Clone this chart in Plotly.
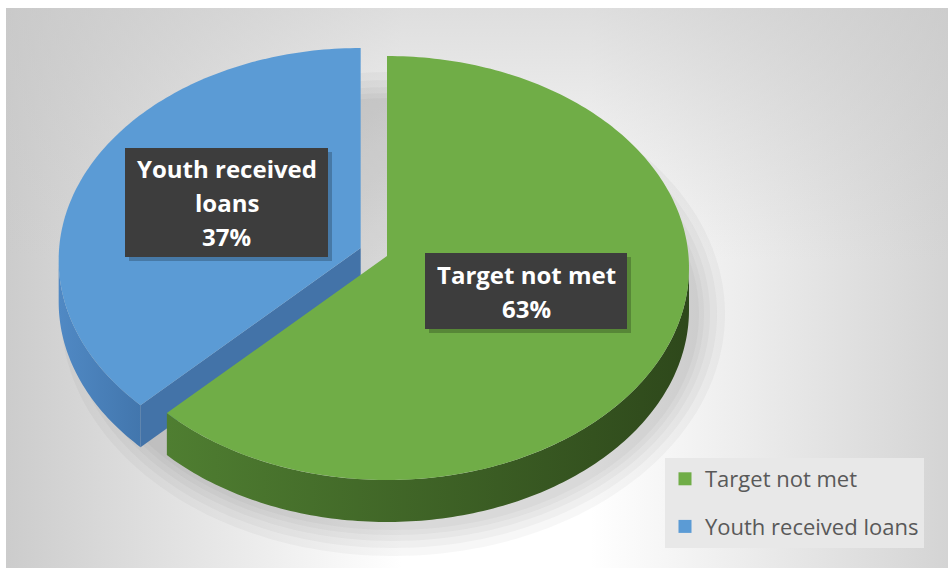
import textwrap
import numpy as np
import plotly.graph_objects as go

# ---- data -------------------------------------------------------------
categories = ["Target not met", "Youth received loans"]
values = [63, 37]

# ---- styling ----------------------------------------------------------
top_colors = ["#70AD47", "#5B9BD5"]
outer_wall_colors = [("#4f7e31", "#2e481b"), ("#5089c4", "#4276ad")]
radial_wall_colors = ["#3b5e24", "#4373a8"]
explode = [0.0, 0.095]

W, H = 948, 568
CX, CY = 387, 268          # ellipse centre of the pie top (pixels)
RX, RY = 302, 212          # ellipse radii
DEPTH = 42                 # thickness of the 3-D disc
APEX_LIFT = 12             # perspective: pie centre sits above ellipse middle
FONT = "Open Sans"

total = sum(values)
fracs = [v / total for v in values]
starts = np.concatenate([[0.0], np.cumsum(fracs)[:-1]]) * 360.0
ends = starts + np.array(fracs) * 360.0


def ell(theta, dx=0.0, dy=0.0):
    """Point on the pie rim; theta in degrees, clockwise from 12 o'clock."""
    t = np.radians(theta)
    return CX + dx + RX * np.sin(t), CY + dy - RY * np.cos(t)


fig = go.Figure()

# ---- background panel with soft gradients ------------------------------
bx = [6, W, W, 6, 6]
by = [8, 8, H, H, 8]
fig.add_trace(go.Scatter(
    x=bx, y=by, mode="none", fill="toself", hoverinfo="skip", showlegend=False,
    fillgradient=dict(type="horizontal", colorscale=[
        [0.0, "#cccccc"], [0.42, "#ffffff"], [0.62, "#ffffff"], [1.0, "#d4d4d4"]]),
))
fig.add_trace(go.Scatter(
    x=bx, y=by, mode="none", fill="toself", hoverinfo="skip", showlegend=False,
    fillgradient=dict(type="vertical", colorscale=[
        [0.0, "rgba(200,200,200,0)"], [0.55, "rgba(200,200,200,0)"],
        [1.0, "rgba(200,200,200,0.6)"]]),
))

# ---- soft drop shadow under the disc ----------------------------------
th = np.linspace(0, 360, 181)
for k in (30, 22, 15, 9, 4):
    sx = CX + 6 + (RX + k) * np.sin(np.radians(th))
    sy = CY + DEPTH + 4 - (RY + k) * np.cos(np.radians(th))
    fig.add_trace(go.Scatter(x=sx, y=sy, mode="none", fill="toself",
                             fillcolor="rgba(60,60,60,0.045)",
                             hoverinfo="skip", showlegend=False))

# ---- build slice geometry ---------------------------------------------
walls = []   # (front-most y, trace)
tops = []
for i, (a0, a1) in enumerate(zip(starts, ends)):
    mid = np.radians((a0 + a1) / 2)
    dx = explode[i] * RX * np.sin(mid)
    dy = -explode[i] * RY * np.cos(mid)
    apex = (CX + dx, CY + dy - APEX_LIFT)

    # top face
    arc = np.linspace(a0, a1, max(int(a1 - a0), 2) + 1)
    ax_, ay_ = ell(arc, dx, dy)
    tx = np.concatenate([[apex[0]], ax_, [apex[0]]])
    ty = np.concatenate([[apex[1]], ay_, [apex[1]]])
    tops.append(go.Scatter(x=tx, y=ty, mode="none", fill="toself",
                           fillcolor=top_colors[i], hoverinfo="skip",
                           showlegend=False))

    # outer (rim) wall: the part facing the viewer lies between 90° and 270°
    lo, hi = max(a0, 90.0), min(a1, 270.0)
    if hi > lo:
        warc = np.linspace(lo, hi, max(int(hi - lo), 2) + 1)
        wx, wy = ell(warc, dx, dy)
        px = np.concatenate([wx, wx[::-1], [wx[0]]])
        py = np.concatenate([wy, wy[::-1] + DEPTH, [wy[0]]])
        c1, c2 = outer_wall_colors[i]
        walls.append((py.max(), go.Scatter(
            x=px, y=py, mode="none", fill="toself", hoverinfo="skip",
            showlegend=False,
            fillgradient=dict(type="horizontal",
                              colorscale=[[0, c1], [1, c2]]))))

    # radial cut faces, visible when they face downward on screen
    for a, sgn in ((a0, -1.0), (a1, 1.0)):
        r = np.radians(a)
        normal_down = sgn * np.sin(r)
        if normal_down > 0.05:
            ex, ey = ell(a, dx, dy)
            px = [apex[0], ex, ex, apex[0], apex[0]]
            py = [apex[1], ey, ey + DEPTH, apex[1] + DEPTH, apex[1]]
            walls.append((max(py), go.Scatter(
                x=px, y=py, mode="none", fill="toself",
                fillcolor=radial_wall_colors[i], hoverinfo="skip",
                showlegend=False)))

for _, tr in sorted(walls, key=lambda w: w[0]):
    fig.add_trace(tr)
for tr in tops:
    fig.add_trace(tr)

# ---- data labels (dark boxes) -----------------------------------------
label_boxes = [
    dict(x0=425, x1=627, y0=253, y1=329),   # Target not met
    dict(x0=125, x1=328, y0=148, y1=257),   # Youth received loans
]
LINE_STEP = 34
for i, (name, v) in enumerate(zip(categories, values)):
    b = label_boxes[i]
    pct = round(v / total * 100)
    lines = textwrap.wrap(name, 14) + [f"{pct}%"]
    fig.add_shape(type="rect", x0=b["x0"] + 4, x1=b["x1"] + 4,
                  y0=b["y0"] + 4, y1=b["y1"] + 4, line_width=0,
                  fillcolor="rgba(0,0,0,0.22)", layer="above")
    fig.add_shape(type="rect", x0=b["x0"], x1=b["x1"], y0=b["y0"],
                  y1=b["y1"], line_width=0, fillcolor="#3d3d3d",
                  layer="above")
    cy = (b["y0"] + b["y1"]) / 2
    first = cy - LINE_STEP * (len(lines) - 1) / 2
    for j, ln in enumerate(lines):
        fig.add_annotation(x=(b["x0"] + b["x1"]) / 2, y=first + j * LINE_STEP,
                           text=f"<b>{ln}</b>", showarrow=False,
                           xanchor="center", yanchor="middle",
                           font=dict(family=FONT, size=24, color="white"))

# ---- legend entries ---------------------------------------------------
for i, name in enumerate(categories):
    fig.add_trace(go.Scatter(
        x=[None], y=[None], mode="markers", name=name, legendgroup=name,
        marker=dict(symbol="square", size=13, color=top_colors[i]),
    ))

fig.update_layout(
    width=W, height=H,
    margin=dict(l=0, r=0, t=0, b=0),
    paper_bgcolor="white", plot_bgcolor="white",
    xaxis=dict(range=[0, W], visible=False, fixedrange=True),
    yaxis=dict(range=[H, 0], visible=False, fixedrange=True),
    showlegend=True,
    legend=dict(
        x=665 / W, y=1 - 458 / H, xanchor="left", yanchor="top",
        bgcolor="#e8e8e8", borderwidth=0,
        font=dict(family=FONT, size=22, color="#595959"),
        tracegroupgap=16, itemwidth=30,
    ),
)

fig.write_html("out.html")
